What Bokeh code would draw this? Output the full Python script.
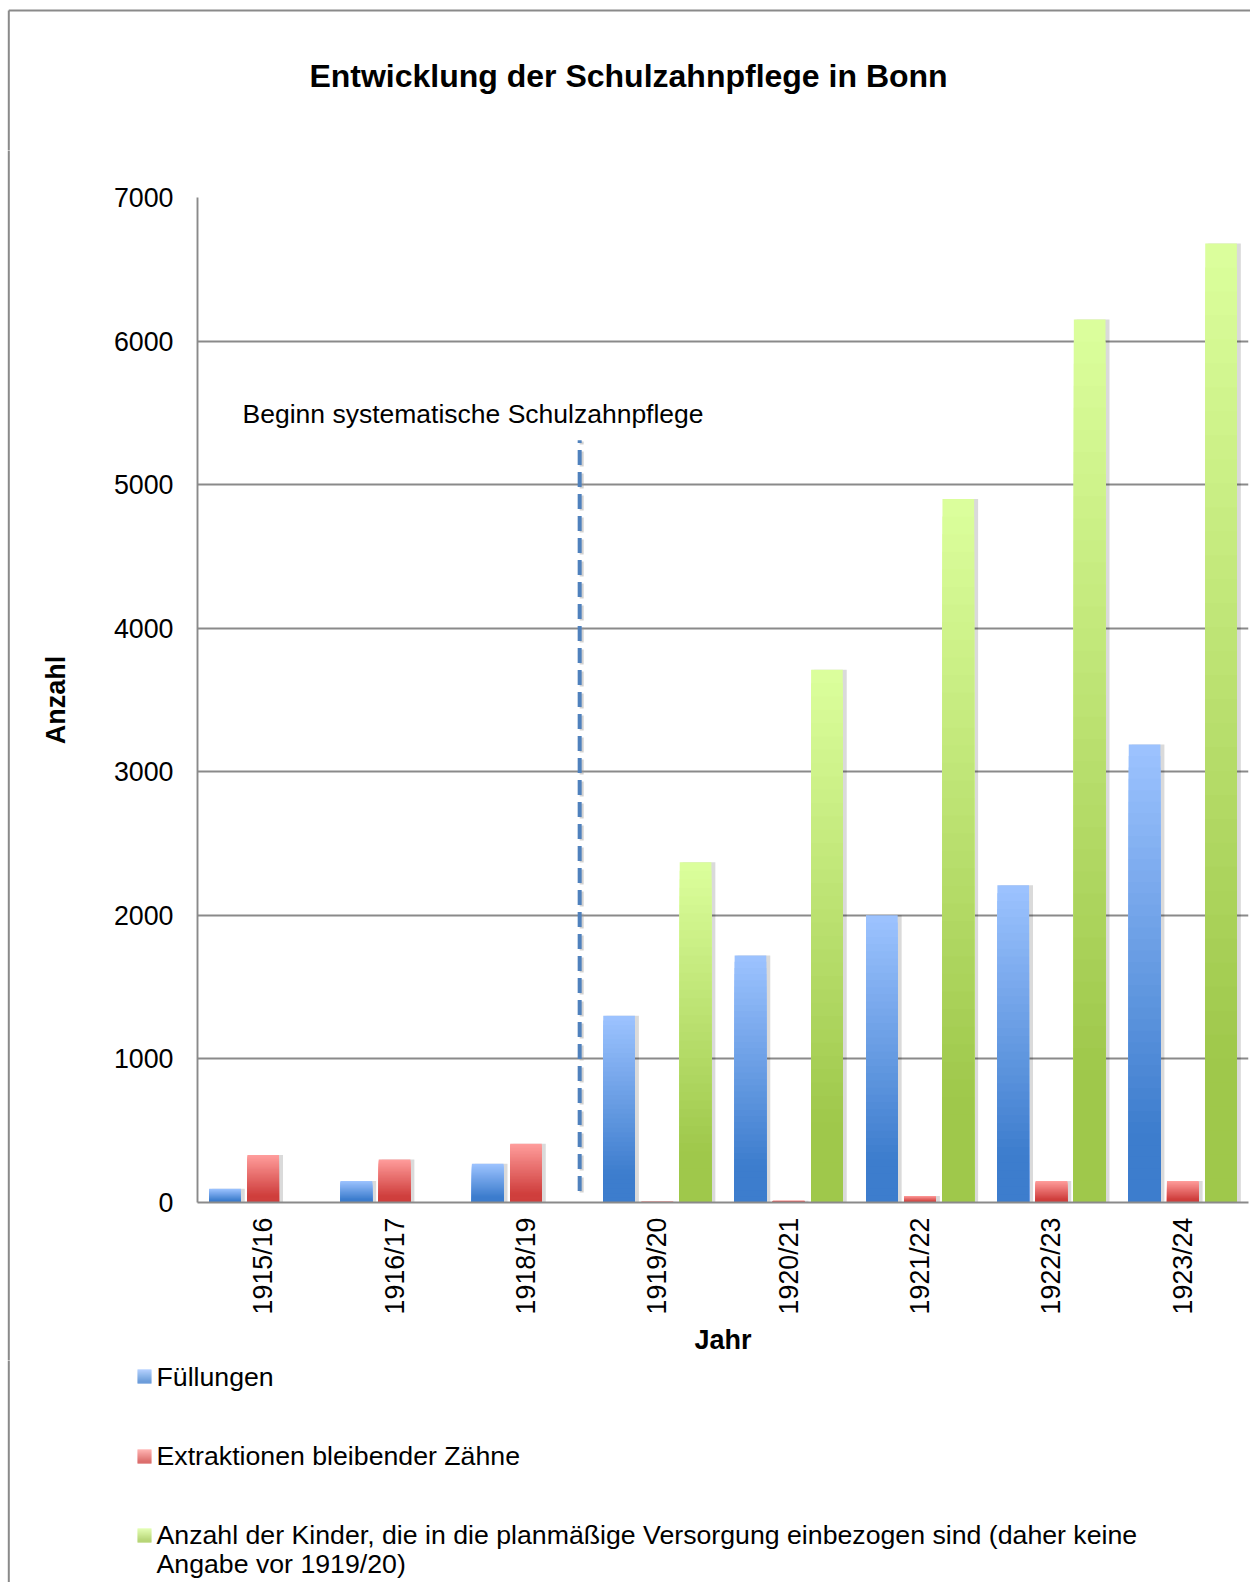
import math
import numpy as np
from bokeh.plotting import figure
from bokeh.layouts import column, row
from bokeh.models import FactorRange, Range1d, FixedTicker, Label, ColumnDataSource
from bokeh.core.properties import value
from bokeh.embed import file_html
from bokeh.resources import INLINE

# --- data -------------------------------------------------------------------
years = ["1915/16", "1916/17", "1918/19", "1919/20", "1920/21", "1921/22", "1922/23", "1923/24"]
fuellungen = [95, 150, 270, 1300, 1720, 2000, 2210, 3190]
extraktionen = [330, 300, 410, 5, 12, 45, 150, 150]
kinder = [None, None, None, 2370, 3710, 4900, 6150, 6680]
y_ticks = [0, 1000, 2000, 3000, 4000, 5000, 6000, 7000]

title_text = "Entwicklung der Schulzahnpflege in Bonn"
legend_labels = [
    "Füllungen",
    "Extraktionen bleibender Zähne",
    "Anzahl der Kinder, die in die planmäßige Versorgung einbezogen sind (daher keine\nAngabe vor 1919/20)",
]
marker_text = "Beginn systematische Schulzahnpflege"
marker_span = (80, 5310)  # vertical extent of the dashed marker (Anzahl)

# --- page geometry ----------------------------------------------------------
FONT = "Liberation Sans"
W, H = 1250, 1582
TOP_H, MID_H = 150, 1210
BOT_H = H - TOP_H - MID_H
STRIP_W = 20
BORDER_X, BORDER_Y = 8.3, 10
BORDER_COLOR = "#8a8a8a"

BAR_W = 0.241
OFFSETS = [-0.291, 0.0, 0.291]
GRADIENTS = [("#9DC3FF", "#3D7DCD"), ("#FF9D9C", "#CF3F3D"), ("#DCFF9D", "#9FC84B")]
series = [fuellungen, extraktionen, kinder]


def mix(c1, c2, t):
    a = np.array([int(c1[i:i + 2], 16) for i in (1, 3, 5)], float)
    b = np.array([int(c2[i:i + 2], 16) for i in (1, 3, 5)], float)
    c = a * (1 - t) + b * t
    return "#%02x%02x%02x" % tuple(int(round(v)) for v in c)


def shade(light, dark, t):
    # t: 0 = bottom of bar, 1 = top of bar
    u = max(0.0, (t - 0.15) / 0.85)
    return mix(dark, light, u)


def gradient_columns(values, offset, light, dark, n=40):
    # tallest slice first, so every shorter (darker) slice paints over it
    xs, tops, cols = [], [], []
    for k in range(n - 1, -1, -1):
        for i, v in enumerate(values):
            if v is None:
                continue
            xs.append(i + 0.5 + offset)
            tops.append(v * (k + 1) / n)
            cols.append(shade(light, dark, (k + 0.5) / n))
    return ColumnDataSource(dict(x=xs, top=tops, color=cols))


def no_frame_align(f):
    try:
        f.frame_align = False
    except AttributeError:
        pass


def pixel_canvas(width, height):
    """A figure whose frame is the whole canvas, in pixel units (y grows downward)."""
    f = figure(width=width, height=height, x_range=Range1d(0, width), y_range=Range1d(height, 0),
               x_axis_type=None, y_axis_type=None, output_backend="svg", toolbar_location=None,
               min_border=0)
    f.outline_line_color = None
    f.grid.visible = False
    f.background_fill_color = "white"
    f.border_fill_color = "white"
    no_frame_align(f)
    return f


# --- title strip -------------------------------------------------------------
top = pixel_canvas(W, TOP_H)
top.segment(x0=[BORDER_X, BORDER_X], y0=[BORDER_Y, BORDER_Y], x1=[W + 5, BORDER_X], y1=[BORDER_Y, TOP_H + 2],
            line_color=BORDER_COLOR, line_width=2)
top.text(x=[628], y=[75.5], text=[title_text], text_font=value(FONT), text_font_size="32px",
         text_font_style="bold", text_align="center", text_baseline="middle", text_color="black")

# --- left border strip -------------------------------------------------------
strip = pixel_canvas(STRIP_W, MID_H)
strip.segment(x0=[BORDER_X], y0=[-2], x1=[BORDER_X], y1=[MID_H + 2], line_color=BORDER_COLOR, line_width=2)

# --- main chart --------------------------------------------------------------
MAIN_W = W - STRIP_W
p = figure(
    width=MAIN_W, height=MID_H,
    x_range=FactorRange(*years, range_padding=0, factor_padding=0),
    y_range=Range1d(0, 7000),
    output_backend="svg", toolbar_location=None,
    min_border_left=197 - STRIP_W, min_border_top=197 - TOP_H,
    min_border_bottom=TOP_H + MID_H - 1202, min_border_right=2,
)
p.outline_line_color = None
p.background_fill_color = "white"
p.border_fill_color = "white"
no_frame_align(p)

px_x = 1.0 / ((MAIN_W - (197 - STRIP_W) - 2) / len(years))   # one pixel in category units

# soft drop shadows behind the bars
for vals, off in zip(series, OFFSETS):
    idx = [i for i, v in enumerate(vals) if v is not None]
    for shift, grow, alpha in [(2.5, 3, 0.07), (3.5, 1, 0.08)]:
        p.vbar(x=[i + 0.5 + off + shift * px_x for i in idx],
               top=[vals[i] for i in idx], bottom=0,
               width=BAR_W + grow * px_x, color="black", alpha=alpha, line_color=None)

# gradient bars
for vals, off, (light, dark) in zip(series, OFFSETS, GRADIENTS):
    src = gradient_columns(vals, off, light, dark)
    p.vbar(x="x", top="top", bottom=0, width=BAR_W, source=src,
           fill_color="color", line_color=None)

# dashed marker between 1918/19 and 1919/20
mx = years.index("1919/20") - 0.091
p.segment(x0=[mx + 2 * px_x], x1=[mx + 2 * px_x], y0=[marker_span[0] - 10], y1=[marker_span[1] - 10],
          line_color="#999999", line_alpha=0.45, line_width=4, line_dash="15 7")
p.segment(x0=[mx], x1=[mx], y0=[marker_span[0]], y1=[marker_span[1]],
          line_color="#4F81BD", line_width=4, line_dash="15 7")
p.add_layout(Label(x=242 - STRIP_W, y=413 - TOP_H, x_units="canvas", y_units="canvas",
                   text=marker_text, text_font=FONT, text_font_size="26.5px",
                   text_baseline="alphabetic", text_color="black"))

# axes and grid
p.xgrid.grid_line_color = None
p.ygrid.grid_line_color = "#8a8a8a"
p.ygrid.grid_line_width = 1.9
p.yaxis.ticker = FixedTicker(ticks=y_ticks)

for ax in (p.xaxis[0], p.yaxis[0]):
    ax.axis_line_color = "#8a8a8a"
    ax.axis_line_width = 1.9
    ax.major_tick_line_color = None
    ax.minor_tick_line_color = None
    ax.major_tick_out = 0
    ax.major_tick_in = 0
    ax.major_label_text_font = FONT
    ax.major_label_text_font_size = "26.8px"
    ax.major_label_text_color = "black"
    ax.axis_label_text_font = FONT
    ax.axis_label_text_font_size = "27px"
    ax.axis_label_text_font_style = "bold"
    ax.axis_label_text_color = "black"

p.yaxis.axis_label = "Anzahl"
p.yaxis.major_label_standoff = 24
p.yaxis.axis_label_standoff = 40
p.xaxis.axis_label = "Jahr"
p.xaxis.major_label_orientation = math.pi / 2
p.xaxis.major_label_standoff = 15
p.xaxis.axis_label_standoff = 8

# --- legend strip ------------------------------------------------------------
bottom = pixel_canvas(W, BOT_H)
bottom.segment(x0=[BORDER_X], y0=[-2], x1=[BORDER_X], y1=[BOT_H + 2], line_color=BORDER_COLOR, line_width=2)

Y0 = TOP_H + MID_H
swatch_rows = [1376 - Y0, 1456 - Y0, 1535 - Y0]
text_rows = [1376 - Y0, 1455 - Y0, 1534 - Y0]
SW = 14
stop, sbot, scol = [], [], []
for (light, dark), cy in zip(GRADIENTS, swatch_rows):
    for k in range(SW):
        stop.append(cy - SW / 2 + k)
        sbot.append(cy - SW / 2 + k + 1.05)
        scol.append(shade(light, dark, 1 - (k + 0.5) / SW))
bottom.quad(left=137, right=151, top=stop, bottom=sbot, fill_color=scol, line_color=None)

tx, ty, tt = [], [], []
for label, cy in zip(legend_labels, text_rows):
    for j, line in enumerate(label.split("\n")):
        tx.append(156)
        ty.append(cy + 29 * j)
        tt.append(line)
bottom.text(x=tx, y=ty, text=tt, text_font=value(FONT), text_font_size="26.7px",
            text_baseline="middle", text_color="black")

layout = column(top, row(strip, p, spacing=0), bottom, spacing=0)
open("out.html", "w").write(file_html(layout, INLINE))
